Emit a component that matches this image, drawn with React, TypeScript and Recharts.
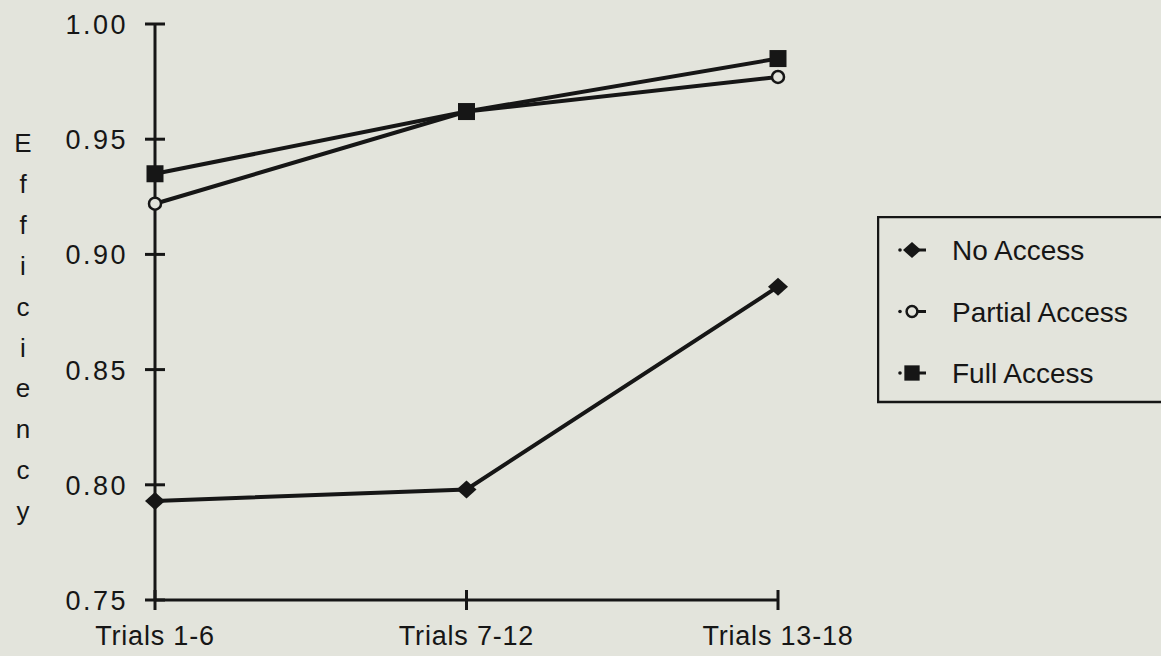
import React from "react";
import { LineChart, Line, XAxis, YAxis } from "recharts";

const trials = ["Trials 1-6", "Trials 7-12", "Trials 13-18"];
const noAccess = [0.793, 0.798, 0.886];
const partialAccess = [0.922, 0.962, 0.977];
const fullAccess = [0.935, 0.962, 0.985];
const yTicks = [0.75, 0.8, 0.85, 0.9, 0.95, 1.0];
const yLabel = "Efficiency";

const BG = "#e3e4dc";
const INK = "#161616";
const FONT = "'Liberation Sans', Arial, Helvetica, sans-serif";

const data = trials.map((trial, i) => ({
  trial,
  noAccess: noAccess[i],
  partialAccess: partialAccess[i],
  fullAccess: fullAccess[i],
}));

type Shape = "diamond" | "circle" | "square";

function marker(shape: Shape, cx: number, cy: number, s = 1, key?: string) {
  if (shape === "diamond") {
    const w = 10 * s;
    const h = 9 * s;
    return (
      <path
        key={key}
        d={`M${cx - w},${cy} L${cx},${cy - h} L${cx + w},${cy} L${cx},${cy + h} Z`}
        fill={INK}
      />
    );
  }
  if (shape === "square") {
    const h = 8.5 * s;
    return <rect key={key} x={cx - h} y={cy - h} width={h * 2} height={h * 2} fill={INK} />;
  }
  return <circle key={key} cx={cx} cy={cy} r={6 * s} fill={BG} stroke={INK} strokeWidth={2.5} />;
}

const series: { key: string; name: string; shape: Shape }[] = [
  { key: "noAccess", name: "No Access", shape: "diamond" },
  { key: "partialAccess", name: "Partial Access", shape: "circle" },
  { key: "fullAccess", name: "Full Access", shape: "square" },
];

const YTick = (props: any) => {
  const { x, y, payload } = props;
  const ax = x + 27;
  return (
    <g>
      <line x1={ax - 10} x2={ax + 10} y1={y} y2={y} stroke={INK} strokeWidth={3} />
      <text
        x={x}
        y={y + 10}
        textAnchor="end"
        fontSize={27}
        letterSpacing={2.5}
        fill={INK}
        fontFamily={FONT}
      >
        {Number(payload.value).toFixed(2)}
      </text>
    </g>
  );
};

const XTick = (props: any) => {
  const { x, y, payload } = props;
  return (
    <g>
      <line x1={x} x2={x} y1={y - 10} y2={y + 10} stroke={INK} strokeWidth={3} />
      <text
        x={x}
        y={y + 45}
        textAnchor="middle"
        fontSize={27}
        letterSpacing={0.8}
        fill={INK}
        fontFamily={FONT}
      >
        {payload.value}
      </text>
    </g>
  );
};

const VerticalLabel = () => (
  <text x={23} textAnchor="middle" fontSize={26} fill={INK} fontFamily={FONT}>
    {yLabel.split("").map((ch, i) => (
      <tspan key={i} x={23} y={152 + i * 40.9}>
        {ch}
      </tspan>
    ))}
  </text>
);

export default function App() {
  return (
    <div
      style={{
        position: "absolute",
        left: 0,
        top: 0,
        width: 1161,
        height: 656,
        background: BG,
        overflow: "hidden",
      }}
    >
      <LineChart
        width={1161}
        height={656}
        data={data}
        margin={{ top: 24, right: 383, bottom: 0, left: 0 }}
      >
        <XAxis
          dataKey="trial"
          height={56}
          tickSize={0}
          tickMargin={0}
          tickLine={false}
          axisLine={{ stroke: INK, strokeWidth: 3 }}
          tick={<XTick />}
          interval={0}
        />
        <YAxis
          type="number"
          width={155}
          domain={[0.75, 1]}
          ticks={yTicks}
          tickSize={0}
          tickMargin={27}
          tickLine={false}
          axisLine={{ stroke: INK, strokeWidth: 3 }}
          tick={<YTick />}
          label={{ content: <VerticalLabel /> }}
        />
        {series.map((s) => (
          <Line
            key={s.key}
            dataKey={s.key}
            name={s.name}
            stroke={INK}
            strokeWidth={4}
            isAnimationActive={false}
            dot={(p: any) => marker(s.shape, p.cx, p.cy, 1, `${s.key}-${p.index}`)}
            activeDot={false}
          />
        ))}
      </LineChart>
      <svg
        width={300}
        height={190}
        style={{ position: "absolute", left: 877, top: 216 }}
      >
        <rect x={1} y={1} width={320} height={185} fill="none" stroke={INK} strokeWidth={2.5} />
        {series.map((s, i) => {
          const cy = 34 + i * 61.5;
          return (
            <g key={s.key}>
              <circle cx={23} cy={cy} r={1.8} fill={INK} />
              <line x1={33} x2={49} y1={cy} y2={cy} stroke={INK} strokeWidth={3} />
              {marker(s.shape, 35, cy, 0.9)}
              <text x={75} y={cy + 10} fontSize={28} fill={INK} fontFamily={FONT}>
                {s.name}
              </text>
            </g>
          );
        })}
      </svg>
    </div>
  );
}
